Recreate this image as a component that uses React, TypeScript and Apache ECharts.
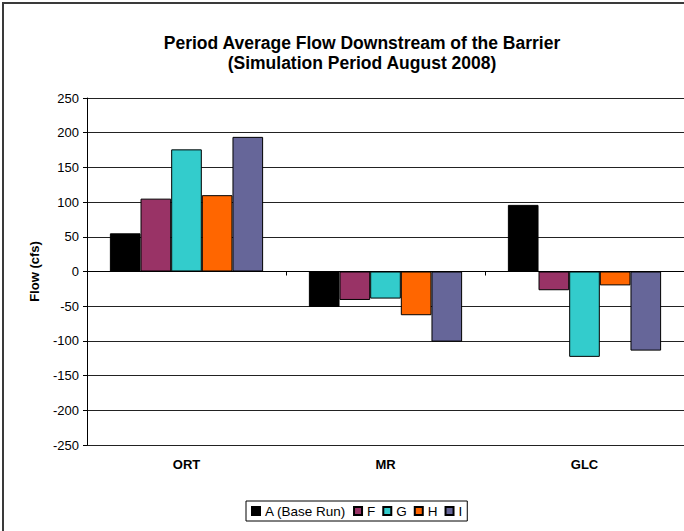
import React, { useEffect, useRef } from "react";
import * as echarts from "echarts";

const categories = ["ORT", "MR", "GLC"];
const seriesNames = ["A (Base Run)", "F", "G", "H", "I"];
const seriesA = [55, -51, 96];
const seriesF = [105, -41, -27];
const seriesG = [176, -39, -123];
const seriesH = [110, -63, -20];
const seriesI = [194, -101, -114];
const seriesColors = ["#000000", "#993366", "#33CCCC", "#FF6600", "#666699"];
const yTicks = { min: -250, max: 250, interval: 50 };

const FONT = 'Arial, "Liberation Sans", sans-serif';

export default function App() {
  const ref = useRef<HTMLDivElement>(null);
  useEffect(() => {
    if (!ref.current) return;
    const chart = echarts.init(ref.current, null, { renderer: "svg" });
    const values = [seriesA, seriesF, seriesG, seriesH, seriesI];
    chart.setOption({
      animation: false,
      backgroundColor: "#ffffff",
      textStyle: { fontFamily: FONT },
      title: {
        text: "Period Average Flow Downstream of the Barrier\n(Simulation Period August 2008)",
        left: 357,
        textAlign: "center",
        top: 28,
        textStyle: { fontFamily: FONT, fontSize: 17.5, fontWeight: "bold", color: "#000", lineHeight: 20 },
      },
      graphic: [
        {
          type: "rect",
          shape: { x: 3, y: 3, width: 900, height: 900 },
          style: { fill: "none", stroke: "#3a3a3a", lineWidth: 2 },
          silent: true,
        },
      ],
      legend: {
        data: seriesNames,
        left: 246,
        top: 501,
        orient: "horizontal",
        borderColor: "#000",
        borderWidth: 1,
        padding: [3, 5, 3, 5],
        itemWidth: 8,
        itemHeight: 8,
        itemGap: 7,
        icon: "rect",
        textStyle: { fontFamily: FONT, fontSize: 13.5, color: "#000" },
      },
      grid: { left: 87, top: 98, width: 599, height: 347, containLabel: false },
      xAxis: [
        {
          type: "category",
          data: categories,
          axisLine: { onZero: true, lineStyle: { color: "#000", width: 1 } },
          axisTick: { show: true, length: 4, lineStyle: { color: "#000" } },
          axisLabel: { show: false },
          splitLine: { show: false },
        },
        {
          type: "category",
          data: categories,
          position: "bottom",
          axisLine: { show: false },
          axisTick: { show: false },
          axisLabel: { margin: 13, fontFamily: FONT, fontSize: 13, fontWeight: "bold", color: "#000" },
          splitLine: { show: false },
        },
      ],
      yAxis: {
        type: "value",
        min: yTicks.min,
        max: yTicks.max,
        interval: yTicks.interval,
        name: "Flow (cfs)",
        nameLocation: "middle",
        nameGap: 46,
        nameRotate: 90,
        nameTextStyle: { fontFamily: FONT, fontSize: 13, fontWeight: "bold", color: "#000" },
        axisLine: { show: true, lineStyle: { color: "#000", width: 1 } },
        axisTick: { show: true, length: 4, lineStyle: { color: "#000" } },
        axisLabel: { margin: 8, fontFamily: FONT, fontSize: 13, color: "#000" },
        splitLine: { show: true, lineStyle: { color: "#222", width: 1 } },
      },
      series: seriesNames.map((name, i) => ({
        name,
        type: "bar",
        xAxisIndex: 0,
        data: values[i],
        barGap: "0%",
        barCategoryGap: "23%",
        itemStyle: { color: seriesColors[i], borderColor: "#000", borderWidth: 1 },
      })),
    });
    return () => chart.dispose();
  }, []);
  return (
    <div
      ref={ref}
      style={{ position: "fixed", left: 0, top: 0, width: 684, height: 531 }}
    />
  );
}
